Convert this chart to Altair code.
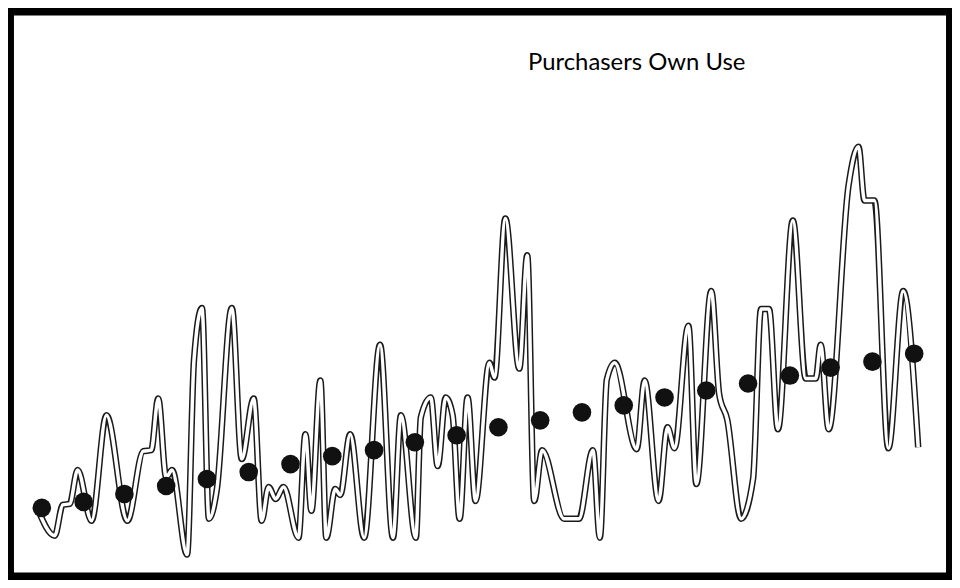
import altair as alt
import pandas as pd

TITLE = "Purchasers Own Use"

# line series (x position in period units, value)
line_t = [0, 18, 26, 33, 41, 55, 70, 91, 107, 115,
          122, 130, 136, 151, 158, 166, 173, 181, 196, 206,
          218, 226, 233, 240, 248, 263, 270, 276, 285, 291,
          300, 305, 315, 329, 345, 358, 366, 381, 386, 396,
          403, 411, 418, 425, 433, 441, 455, 460, 471, 485,
          493, 500, 508, 530, 545, 559, 566, 573, 581, 603,
          611, 625, 634, 641, 655, 663, 678, 686, 694, 708,
          720, 728, 736, 745, 760, 773, 783, 788, 796, 816,
          826, 832, 842, 856, 871, 886]
line_v = [17, 9.75, 17.5, 17.75, 26.25, 13.5, 40, 13.5, 31, 31.25,
          44.25, 24.5, 26.25, 5, 54, 67, 14, 21.5, 67, 29,
          44.25, 13.5, 22, 19, 22, 9.25, 35.25, 16, 48.75, 9.25,
          21.5, 20, 35.25, 9.25, 57.75, 9.25, 40, 9.25, 39.5, 44.5,
          27.25, 44.5, 40, 14, 44.5, 18.5, 53.25, 49.5, 89.5, 51.75,
          80.25, 18.5, 31.25, 14, 14, 31.25, 9.25, 49, 53.25, 31.5,
          48.75, 18.5, 37, 31.75, 62.5, 22.75, 71.25, 45.25, 39, 14,
          24, 66.75, 66.75, 36.5, 89, 49.25, 49.25, 57.75, 36.5, 97.75,
          107.5, 94, 94, 31.75, 71.25, 32]

# trend dots
dot_t = [5, 47, 88, 130, 171, 213, 255, 297, 339, 380, 422,
         464, 506, 548, 590, 631, 673, 715, 757, 798, 840, 882]
dot_v = [16.75, 18.25, 20.25, 22.25, 24, 25.75, 27.75, 29.75, 31.25, 33.25, 35,
         37, 38.75, 40.75, 42.5, 44.5, 46.25, 48, 50, 52, 53.5, 55.5]

line_df = pd.DataFrame({"t": line_t, "v": line_v})
dot_df = pd.DataFrame({"t": dot_t, "v": dot_v})
title_df = pd.DataFrame({"label": [TITLE]})

W, H = 949, 572

x = alt.X("t:Q", scale=alt.Scale(domain=[-29, 920], nice=False, zero=False), axis=None)
y = alt.Y("v:Q", scale=alt.Scale(domain=[-1, 142], nice=False, zero=False), axis=None)

outline = alt.Chart(line_df).mark_line(
    color="#1a1a1a", strokeWidth=6.5, strokeJoin="round", interpolate="monotone"
).encode(x=x, y=y)

core = alt.Chart(line_df).mark_line(
    color="#ffffff", strokeWidth=3.5, strokeJoin="round", interpolate="monotone"
).encode(x=x, y=y)

dots = alt.Chart(dot_df).mark_circle(size=350, color="#111111", opacity=1).encode(x=x, y=y)

title = alt.Chart(title_df).mark_text(
    font="Lato", fontSize=24, color="#000000", baseline="middle", align="center"
).encode(x=alt.value(632), y=alt.value(54), text="label:N")

chart = alt.layer(outline, core, dots, title).properties(
    width=W, height=H, padding=0,
    autosize=alt.AutoSizeParams(type="none")
).configure(background="white").configure_view(stroke="black", strokeWidth=12)

chart.save("out.html", embed_options={"renderer": "svg", "actions": False})
